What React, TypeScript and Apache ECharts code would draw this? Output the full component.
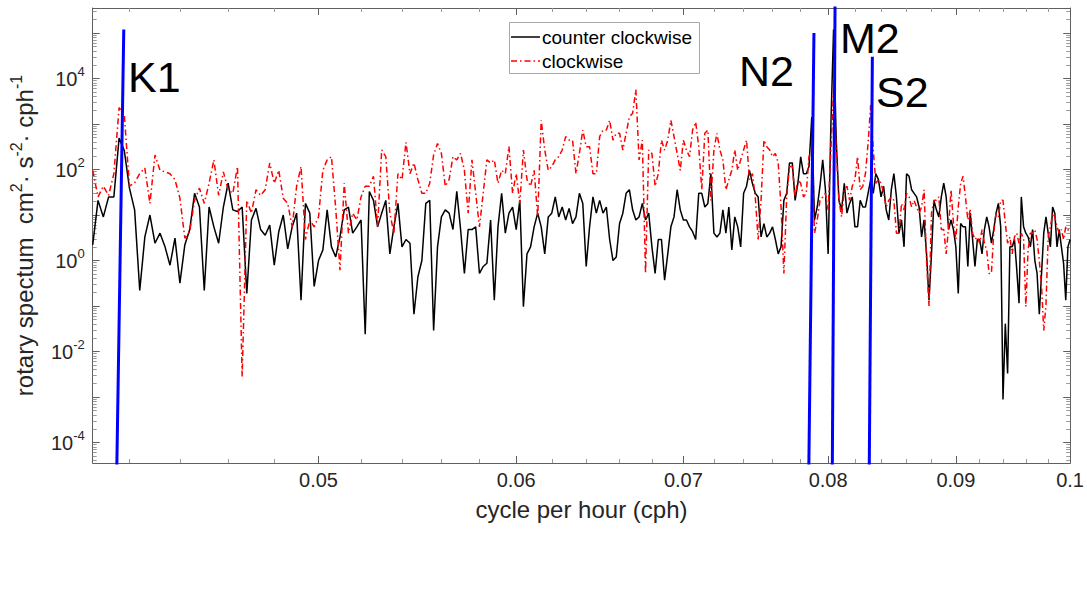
import React, { useEffect, useRef } from 'react';
import * as echarts from 'echarts';

const FONT = '"Liberation Sans", Arial, Helvetica, sans-serif';
const TEXT = '#262626';
const AXIS = '#5f5f5f';

// frequency grid of the spectra (cph)
const FREQ_START = 0.0406;
const FREQ_STEP = 0.0002;

// counter clockwise spectrum (black), one value per frequency step
const COUNTER_CLOCKWISE = [
  2.2, 21, 9.1, 25, 25, 490, 260, 39, 13, 0.22,
  3.3, 10, 2.4, 4.0, 2.0, 0.79, 3.1, 0.32, 2.2, 4.8,
  30, 15, 0.22, 15, 5.5, 2.4, 15, 50, 13, 12,
  15, 0.19, 7.8, 14, 4.8, 3.6, 6.0, 0.79, 4.3, 10,
  1.8,
  5.5, 11, 0.135, 18, 11, 0.27, 1.0, 1.7, 13, 2.0,
  1.2, 3.3, 13, 15, 4.0, 5.5, 7.8, 0.024, 33, 21,
  5.5, 11, 21, 1.4, 5.5, 18, 2.0, 2.9, 2.4, 0.066,
  0.44, 1.0, 18, 21, 0.029, 2.0, 9.1, 13, 11, 4.8,
  33, 4.8, 0.52, 4.8, 4.8, 5.5, 0.52, 0.74,
  0.87, 7.8, 0.135, 5.5, 30, 4.0, 11, 15, 4.8, 21,
  0.097, 1.4, 2.0, 5.5, 11, 5.5, 1.4, 9.1, 11, 25,
  9.1, 15, 7.8, 14, 6.5, 9.1, 30, 18, 0.74, 5.5,
  25, 11, 21, 11, 15, 2.9, 1.0, 1.2, 6.5, 11,
  30, 36, 13, 7.8, 9.1, 18, 7.8, 11, 2.0, 0.52,
  2.9, 2.9, 0.37, 1.4, 5.5, 9.1, 36, 13,
  7.8, 7.8, 5.5, 4.3, 2.9, 30, 30, 15, 18, 81,
  4.0, 3.3, 4.0, 13, 4.0, 15, 1.7, 9.1, 5.5, 2.0,
  30, 43, 96, 50, 30, 25, 3.3, 6.5, 3.3, 4.0,
  5.5, 2.9, 1.4, 2.0, 21, 30, 140, 140, 21, 50,
  190, 81, 81, 116, 1430, 7.8, 15, 43, 163, 36,
  1.4, 890, 120000, 440, 21, 13, 50, 11, 18, 25,
  5.5, 5.5, 21, 15, 15, 30, 60, 30, 81,
  60, 25, 43, 13, 7.8, 36, 81, 25, 4.0, 7.8,
  2.0, 81, 71, 36, 30, 25, 15, 3.3, 7.8, 1.4,
  0.135, 1.4, 21, 13, 9.1, 25, 50, 25, 4.8, 7.8,
  4.8, 2.0, 0.19, 6.5, 5.5, 5.5, 0.74, 11, 2.9, 0.74,
  2.9, 2.9, 1.4, 4.8, 9.1, 5.5, 2.4, 4.8, 11, 18,
  5.5, 0.00088, 0.041, 0.0033, 2.0, 2.0, 2.9, 0.63, 0.115, 25,
  5.5, 4.0, 3.3, 2.0, 4.8, 1.0, 0.52, 0.066, 0.52, 4.0,
  9.1, 4.0, 2.0, 15, 11, 2.0, 4.8, 2.0, 0.87, 0.135,
  2.0, 2.9,
];

// clockwise spectrum (red dash-dot)
const CLOCKWISE = [
  96, 25, 43, 27, 81, 2300, 1600, 43, 51, 81,
  108, 18, 209, 96, 89, 81, 60, 23.5, 3.1, 4.3,
  21, 39, 18, 50, 163, 27, 89, 36, 30, 116,
  0.0028, 21, 11, 36, 27, 36, 139, 50, 96, 23.5,
  18,
  5.5, 43, 116, 2.9, 7.8, 5.5, 9.1, 96, 163, 192,
  14, 0.61, 50, 4.0, 11, 7.8, 25, 43, 43, 71,
  5.5, 269, 192, 11, 4.0, 81, 60, 396, 81, 139,
  60, 30, 30, 50, 209, 373, 226, 43, 60, 192,
  163, 226, 96, 11, 163, 30, 5.5, 30,
  163, 139, 163, 50, 96, 81, 318, 30, 81, 18,
  269, 60, 43, 96, 9.1, 1210, 269, 96, 116, 163,
  192, 269, 529, 443, 443, 81, 226, 737, 318, 318,
  81, 81, 529, 737, 737, 1210, 443, 627, 627, 269,
  627, 1430, 1720, 5700, 163, 443, 0.52, 269, 226, 43,
  81, 443, 269, 443, 1210, 529, 226, 96,
  443, 269, 192, 737, 1100, 318, 36, 627, 737, 21,
  269, 627, 269, 163, 36, 60, 96, 269, 96, 163,
  269, 443, 60, 81, 25, 2.9, 21, 443, 318, 269,
  192, 226, 139, 15, 0.52, 25, 116, 116, 25, 60,
  50, 25, 30, 192, 269, 4.0, 7.8, 21, 25, 30,
  13, 269, 5900, 269, 21, 9.1, 36, 43, 21, 43,
  60, 192, 36, 43, 81, 373, 2600, 269, 50,
  60, 50, 30, 15, 21, 25, 21, 4.0, 4.0, 18,
  13, 30, 25, 15, 21, 15, 11, 15, 36, 1.0,
  0.1, 11, 21, 21, 25, 4.8, 4.8, 1.4, 5.5, 36,
  6.5, 2.9, 15, 50, 71, 25, 7.8, 13, 4.0, 2.9,
  3.3, 2.4, 4.8, 2.4, 1.7, 0.52, 0.52, 4.0, 11, 9.1,
  21, 21, 6.5, 2.4, 3.3, 1.4, 3.3, 4.0, 2.4, 4.0,
  2.9, 0.097, 1.7, 4.0, 4.0, 4.8, 2.9, 1.0, 0.27, 0.029,
  0.106, 3.3, 5.5, 11, 9.1, 5.5, 4.0, 4.8, 2.9, 5.5,
  4.8, 4.0,
];

// tidal constituents (blue lines)
const TIDE_NAMES = ['K1', 'N2', 'M2', 'S2'];
const TIDE_FREQ = [0.04178, 0.07896, 0.08051, 0.08333];
const TIDE_PEAK = [1.2e5, 1.0e5, 4.0e5, 3.0e4];
const TIDE_FOOT_FREQ = [0.0415, 0.07857, 0.0803, 0.08308];
const TIDE_FOOT = 1e-5;

const X_TICKS = [0.05, 0.06, 0.07, 0.08, 0.09, 0.1];
const X_MINOR_TICKS = [
  0.042, 0.044, 0.046, 0.048, 0.052, 0.054, 0.056, 0.058, 0.062, 0.064, 0.066, 0.068,
  0.072, 0.074, 0.076, 0.078, 0.082, 0.084, 0.086, 0.088, 0.092, 0.094, 0.096, 0.098,
];
const Y_LABELS = [1e-4, 1e-2, 1, 1e2, 1e4];
const Y_DECADES = [1e-5, 1e-4, 1e-3, 1e-2, 1e-1, 1, 1e1, 1e2, 1e3, 1e4, 1e5];
const Y_MINOR_MANTISSAS = [2, 3, 4, 5, 6, 7, 8, 9];

const X_MIN = 0.0406;
const X_MAX = 0.10001;
const Y_MIN = 3.55e-5;
const Y_MAX = 3.55e5;

const freqAt = (i: number) => Number((FREQ_START + FREQ_STEP * i).toFixed(4));
const yMinor: number[] = [];
Y_DECADES.forEach((d) =>
  Y_MINOR_MANTISSAS.forEach((m) => {
    const v = Number((m * d).toPrecision(3));
    if (v > Y_MIN && v < Y_MAX) yMinor.push(v);
  })
);
const yMajor = Y_DECADES.filter((v) => v > Y_MIN && v < Y_MAX);

function buildOption() {
  const hidden = { show: false };
  const xCommon = {
    type: 'log',
    logBase: 10,
    min: X_MIN,
    max: X_MAX,
    splitLine: hidden,
    minorTick: hidden,
    minorSplitLine: hidden,
  };
  const yCommon = {
    type: 'log',
    logBase: 10,
    min: Y_MIN,
    max: Y_MAX,
    splitLine: hidden,
    minorTick: hidden,
    minorSplitLine: hidden,
  };
  const axisLine = { show: true, onZero: false, lineStyle: { color: AXIS, width: 1 } };
  const majorTick = (vals: number[]) => ({
    show: true,
    inside: true,
    length: 7,
    customValues: vals,
    lineStyle: { color: AXIS, width: 1 },
  });
  const minorTickAx = (vals: number[]) => ({
    show: true,
    inside: true,
    length: 4,
    customValues: vals,
    lineStyle: { color: '#9a9a9a', width: 1 },
  });

  const xAxis = [
    {
      ...xCommon,
      position: 'bottom',
      axisLine,
      axisTick: majorTick(X_TICKS),
      axisLabel: {
        customValues: X_TICKS,
        formatter: (v: number) => String(Number(v.toPrecision(2))),
        fontSize: 20,
        fontFamily: FONT,
        color: TEXT,
        margin: 7,
      },
      name: 'cycle per hour (cph)',
      nameLocation: 'middle',
      nameGap: 34,
      nameTextStyle: { fontSize: 24, fontFamily: FONT, color: TEXT },
    },
    { ...xCommon, position: 'top', axisLine, axisTick: majorTick(X_TICKS), axisLabel: hidden },
    { ...xCommon, position: 'bottom', axisLine: hidden, axisTick: minorTickAx(X_MINOR_TICKS), axisLabel: hidden },
    { ...xCommon, position: 'top', axisLine: hidden, axisTick: minorTickAx(X_MINOR_TICKS), axisLabel: hidden },
  ];

  const yAxis = [
    {
      ...yCommon,
      position: 'left',
      axisLine,
      axisTick: majorTick(yMajor),
      axisLabel: {
        customValues: Y_LABELS,
        formatter: (v: number) => `{b|10}{s|${Math.round(Math.log10(v))}}`,
        margin: 8,
        color: TEXT,
        rich: {
          b: { fontSize: 20, lineHeight: 28, fontFamily: FONT, color: TEXT },
          s: { fontSize: 13, lineHeight: 13, verticalAlign: 'top', fontFamily: FONT, color: TEXT },
        },
      },
      name: 'rotary spectum  cm{s|2}· s{s|-2}· cph{s|-1}',
      nameLocation: 'middle',
      nameRotate: 90,
      nameGap: 43,
      nameTextStyle: {
        fontSize: 24,
        lineHeight: 32,
        fontFamily: FONT,
        color: TEXT,
        rich: {
          s: { fontSize: 16, lineHeight: 16, verticalAlign: 'top', fontFamily: FONT, color: TEXT },
        },
      },
    },
    { ...yCommon, position: 'right', axisLine, axisTick: majorTick(yMajor), axisLabel: hidden },
    { ...yCommon, position: 'left', axisLine: hidden, axisTick: minorTickAx(yMinor), axisLabel: hidden },
    { ...yCommon, position: 'right', axisLine: hidden, axisTick: minorTickAx(yMinor), axisLabel: hidden },
  ];

  const ccwData = COUNTER_CLOCKWISE.map((v, i) => [freqAt(i), v]);
  const cwData = CLOCKWISE.map((v, i) => [freqAt(i), v]);

  const series: any[] = [
    {
      type: 'line',
      name: 'counter clockwise',
      data: ccwData,
      symbol: 'none',
      lineStyle: { color: '#000000', width: 1.5 },
      z: 2,
      silent: true,
    },
    {
      type: 'line',
      name: 'clockwise',
      data: cwData,
      symbol: 'none',
      lineStyle: { color: '#ff0000', width: 1.5, type: [6, 3, 1.5, 3] },
      z: 3,
      silent: true,
    },
  ];
  TIDE_NAMES.forEach((name, k) => {
    series.push({
      type: 'line',
      name,
      data: [
        [TIDE_FOOT_FREQ[k], TIDE_FOOT],
        [TIDE_FREQ[k], TIDE_PEAK[k]],
      ],
      symbol: 'none',
      lineStyle: { color: '#0000ff', width: 3 },
      z: 4,
      silent: true,
    });
  });

  const labelPos = [
    [128, 77],
    [739, 71],
    [840, 38],
    [876, 92],
  ];
  const graphic: any[] = TIDE_NAMES.map((name, k) => ({
    type: 'text',
    x: labelPos[k][0],
    y: labelPos[k][1],
    z: 50,
    style: {
      text: name,
      fontSize: 43,
      fontFamily: FONT,
      fill: '#000000',
      align: 'left',
      verticalAlign: 'middle',
    },
  }));
  graphic.push(
    {
      type: 'rect',
      z: 100,
      shape: { x: 509.5, y: 22.5, width: 190, height: 51 },
      style: { fill: '#ffffff', stroke: '#a8a8a8', lineWidth: 1 },
    },
    {
      type: 'line',
      z: 101,
      shape: { x1: 511, y1: 37, x2: 540, y2: 37 },
      style: { stroke: '#000000', lineWidth: 1.5 },
    },
    {
      type: 'line',
      z: 101,
      shape: { x1: 511, y1: 61, x2: 540, y2: 61 },
      style: { stroke: '#ff0000', lineWidth: 1.5, lineDash: [6, 3, 1.5, 3] },
    },
    {
      type: 'text',
      z: 101,
      x: 542,
      y: 37,
      style: { text: 'counter clockwise', fontSize: 19, fontFamily: FONT, fill: '#000000', align: 'left', verticalAlign: 'middle' },
    },
    {
      type: 'text',
      z: 101,
      x: 542,
      y: 61,
      style: { text: 'clockwise', fontSize: 19, fontFamily: FONT, fill: '#000000', align: 'left', verticalAlign: 'middle' },
    }
  );

  return {
    animation: false,
    backgroundColor: '#ffffff',
    grid: { left: 91, right: 15, top: 8, bottom: 149 },
    xAxis,
    yAxis,
    series,
    graphic,
  };
}

export default function App() {
  const ref = useRef<HTMLDivElement>(null);
  useEffect(() => {
    if (!ref.current) return;
    const chart = echarts.init(ref.current, null, { renderer: 'svg' });
    chart.setOption(buildOption() as any);
    return () => chart.dispose();
  }, []);
  return (
    <div
      ref={ref}
      style={{ position: 'absolute', left: 0, top: 0, width: 1087, height: 612, background: '#ffffff' }}
    />
  );
}
